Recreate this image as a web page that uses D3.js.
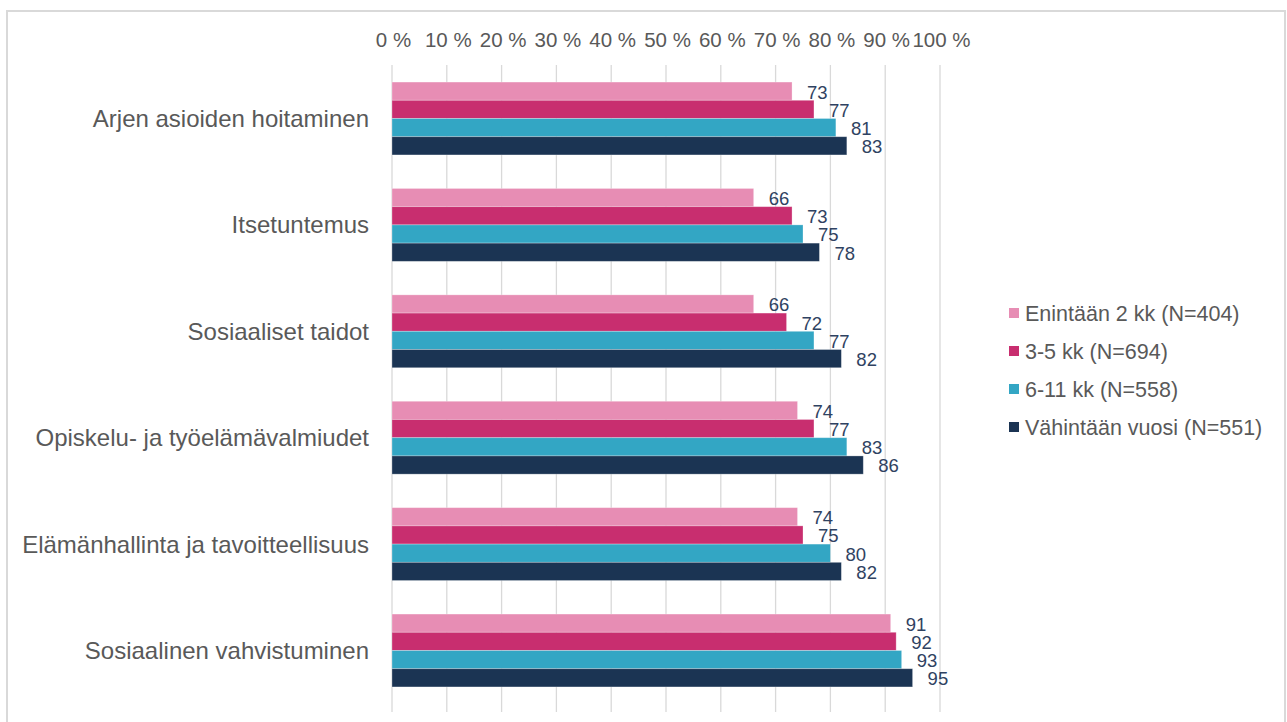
<!DOCTYPE html>
<html>
<head>
<meta charset="utf-8">
<script src="https://cdn.jsdelivr.net/npm/d3@7"></script>
<style>
body { margin: 0; background: #fff; }
text { font-family: "Liberation Sans", Arial, sans-serif; }
</style>
</head>
<body>
<svg id="chart" width="1287" height="722"></svg>
<script>
var categories = ["Arjen asioiden hoitaminen", "Itsetuntemus", "Sosiaaliset taidot",
	"Opiskelu- ja työelämävalmiudet", "Elämänhallinta ja tavoitteellisuus", "Sosiaalinen vahvistuminen"];
var seriesNames = ["Enintään 2 kk (N=404)", "3-5 kk (N=694)", "6-11 kk (N=558)", "Vähintään vuosi (N=551)"];
var seriesColors = ["#e78db4", "#c82e6f", "#33a6c4", "#1b3453"];
var enintaan2 = [73, 66, 66, 74, 74, 91];
var kk3to5 = [77, 73, 72, 77, 75, 92];
var kk6to11 = [81, 75, 77, 83, 80, 93];
var vuosi = [83, 78, 82, 86, 82, 95];
var tickValues = [0, 10, 20, 30, 40, 50, 60, 70, 80, 90, 100];

var seriesValues = [enintaan2, kk3to5, kk6to11, vuosi];

var svg = d3.select("#chart");

// chart frame
svg.append("rect")
	.attr("x", 7).attr("y", 11)
	.attr("width", 1278).attr("height", 720)
	.attr("fill", "none")
	.attr("stroke", "#d9d9d9")
	.attr("stroke-width", 2);

var x = d3.scaleLinear().domain([0, 100]).range([392, 940]);
var y = d3.scaleBand().domain(categories).range([65.3, 703.7]).paddingInner(0.315).paddingOuter(0.1575);
var ySub = d3.scaleBand().domain(d3.range(seriesNames.length)).range([0, y.bandwidth()]);

// gridlines
svg.append("g").selectAll("line")
	.data(tickValues)
	.enter().append("line")
		.attr("x1", function(d) {return x(d);})
		.attr("x2", function(d) {return x(d);})
		.attr("y1", 65)
		.attr("y2", 712)
		.attr("stroke", "#d9d9d9")
		.attr("stroke-width", 1.3);

// top axis labels
var axis = d3.axisTop(x).tickValues(tickValues).tickSize(0).tickFormat(function(d) {return d + " %";});
var axisG = svg.append("g").attr("transform", "translate(1,50)").call(axis);
axisG.select(".domain").remove();
axisG.selectAll("text")
	.attr("font-size", 20.5)
	.attr("fill", "#595959")
	.style("font-family", "Liberation Sans, Arial, sans-serif");

// category labels
svg.append("g").selectAll("text")
	.data(categories)
	.enter().append("text")
		.attr("x", 369)
		.attr("y", function(d) {return y(d) + y.bandwidth() / 2;})
		.attr("dy", "0.35em")
		.attr("text-anchor", "end")
		.attr("font-size", 24)
		.attr("fill", "#595959")
		.text(function(d) {return d;});

// bars
var groups = svg.append("g").selectAll("g.cat")
	.data(categories)
	.enter().append("g")
		.attr("class", "cat")
		.attr("transform", function(d) {return "translate(0," + y(d) + ")";});

groups.each(function(cat, ci) {
	var g = d3.select(this);
	var rows = seriesValues.map(function(vals, si) {return {s: si, v: vals[ci]};});
	g.selectAll("rect")
		.data(rows)
		.enter().append("rect")
			.attr("x", x(0))
			.attr("y", function(d) {return ySub(d.s);})
			.attr("width", function(d) {return x(d.v) - x(0);})
			.attr("height", ySub.bandwidth())
			.attr("fill", function(d) {return seriesColors[d.s];})
			.attr("stroke", "#ffffff")
			.attr("stroke-opacity", 0.35)
			.attr("stroke-width", 0.8);
	g.selectAll("text")
		.data(rows)
		.enter().append("text")
			.attr("x", function(d) {return x(d.v) + 15;})
			.attr("y", function(d) {return ySub(d.s) + ySub.bandwidth() / 2 + 1;})
			.attr("dy", "0.35em")
			.attr("font-size", 18.5)
			.attr("fill", "#2f4261")
			.text(function(d) {return d.v;});
});

// legend
var legend = svg.append("g").selectAll("g.leg")
	.data(seriesNames)
	.enter().append("g")
		.attr("class", "leg")
		.attr("transform", function(d, i) {return "translate(1009," + (313 + i * 38) + ")";});
legend.append("rect")
	.attr("x", 0).attr("y", -5)
	.attr("width", 10).attr("height", 10)
	.attr("fill", function(d, i) {return seriesColors[i];});
legend.append("text")
	.attr("x", 16)
	.attr("dy", "0.35em")
	.attr("font-size", 21.5)
	.attr("fill", "#595959")
	.text(function(d) {return d;});
</script>
</body>
</html>
